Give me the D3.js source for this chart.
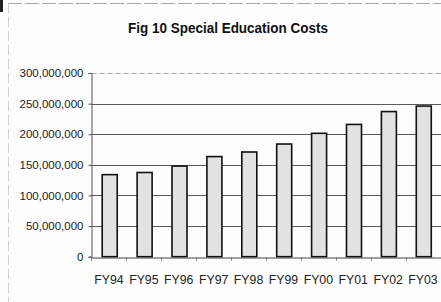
<!DOCTYPE html>
<html><head><meta charset="utf-8">
<script src="https://cdn.jsdelivr.net/npm/d3@7"></script>
<style>
html,body{margin:0;padding:0;background:#fff;}
svg{display:block;}
</style></head>
<body>
<svg id="chart" width="441" height="302"></svg>
<script>
const title = "Fig 10 Special Education Costs";
const categories = ["FY94","FY95","FY96","FY97","FY98","FY99","FY00","FY01","FY02","FY03"];
const costs = [134000000,137500000,148000000,163500000,171000000,184000000,201500000,216000000,237000000,246000000];
const yTicks = [0,50000000,100000000,150000000,200000000,250000000,300000000];

const svg = d3.select("#chart");
const W = 441, H = 302;
const m = {left:91, right:0, top:73, bottom:45};

// outer scanned frame
svg.append("rect").attr("x",0).attr("y",0).attr("width",W).attr("height",H).attr("fill","#fdfdfd");
svg.append("line").attr("x1",8).attr("x2",W).attr("y1",3.5).attr("y2",3.5)
  .attr("stroke","#a8a8a8").attr("stroke-width",1).attr("stroke-dasharray","14,3");
svg.append("line").attr("x1",8.5).attr("x2",8.5).attr("y1",3).attr("y2",H)
  .attr("stroke","#d0d0d0").attr("stroke-width",1).attr("stroke-dasharray","10,4");
svg.append("rect").attr("x",0).attr("y",0).attr("width",3).attr("height",12).attr("fill","#222");

svg.append("text").attr("x",228).attr("y",33).attr("text-anchor","middle")
  .attr("font-family","Liberation Sans Narrow, Arial, sans-serif").attr("font-weight","bold")
  .attr("font-size",14).attr("fill","#111").attr("textLength",200).attr("lengthAdjust","spacingAndGlyphs")
  .text(title);

const x = d3.scaleBand().domain(categories).range([m.left, W - m.right]).paddingInner(0.57).paddingOuter(0.3);
const y = d3.scaleLinear().domain([0,300000000]).range([H - m.bottom - 0.3, m.top]);

// gridlines
svg.append("g").selectAll("line").data(yTicks.filter(d=>d>0)).join("line")
  .attr("x1",m.left).attr("x2",W).attr("y1",d=>Math.round(y(d))+0.5).attr("y2",d=>Math.round(y(d))+0.5)
  .attr("stroke",d=>d===300000000?"#b0b0b0":"#5a5a5a").attr("stroke-width",1)
  .attr("stroke-dasharray",d=>d===300000000?"6,2":null);

// y axis
const yAxis = d3.axisLeft(y).tickValues(yTicks).tickFormat(d3.format(",")).tickSize(3).tickPadding(5);
const gy = svg.append("g").attr("transform",`translate(${m.left+0.5},0)`).call(yAxis);
gy.select(".domain").attr("stroke","#555");
gy.selectAll(".tick line").attr("stroke","#555");
gy.selectAll("text").attr("font-family","Arial, Liberation Sans, sans-serif").attr("font-size",11.5).attr("fill","#222");

// bars
svg.append("g").selectAll("rect").data(categories).join("rect")
  .attr("x",(d)=>x(d)+0.75).attr("width",x.bandwidth())
  .attr("y",(d,i)=>y(costs[i])).attr("height",(d,i)=>y(0)-y(costs[i]))
  .attr("fill","#e2e2e2").attr("stroke","#111").attr("stroke-width",1.6);

// x axis
const xAxis = d3.axisBottom(d3.scaleLinear().domain([0,10]).range([m.left, W])).ticks(10).tickSize(3).tickFormat("");
const gx = svg.append("g").attr("transform",`translate(0,${Math.round(y(0))+0.5})`).call(xAxis);
gx.select(".domain").attr("stroke","#444");
gx.selectAll(".tick line").attr("stroke","#777");

svg.append("g").selectAll("text").data(categories).join("text")
  .attr("x",d=>x(d)+x.bandwidth()/2).attr("y",284).attr("text-anchor","middle")
  .attr("font-family","Arial, Liberation Sans, sans-serif").attr("font-size",12.3).attr("fill","#222")
  .text(d=>d);
</script>
</body></html>
